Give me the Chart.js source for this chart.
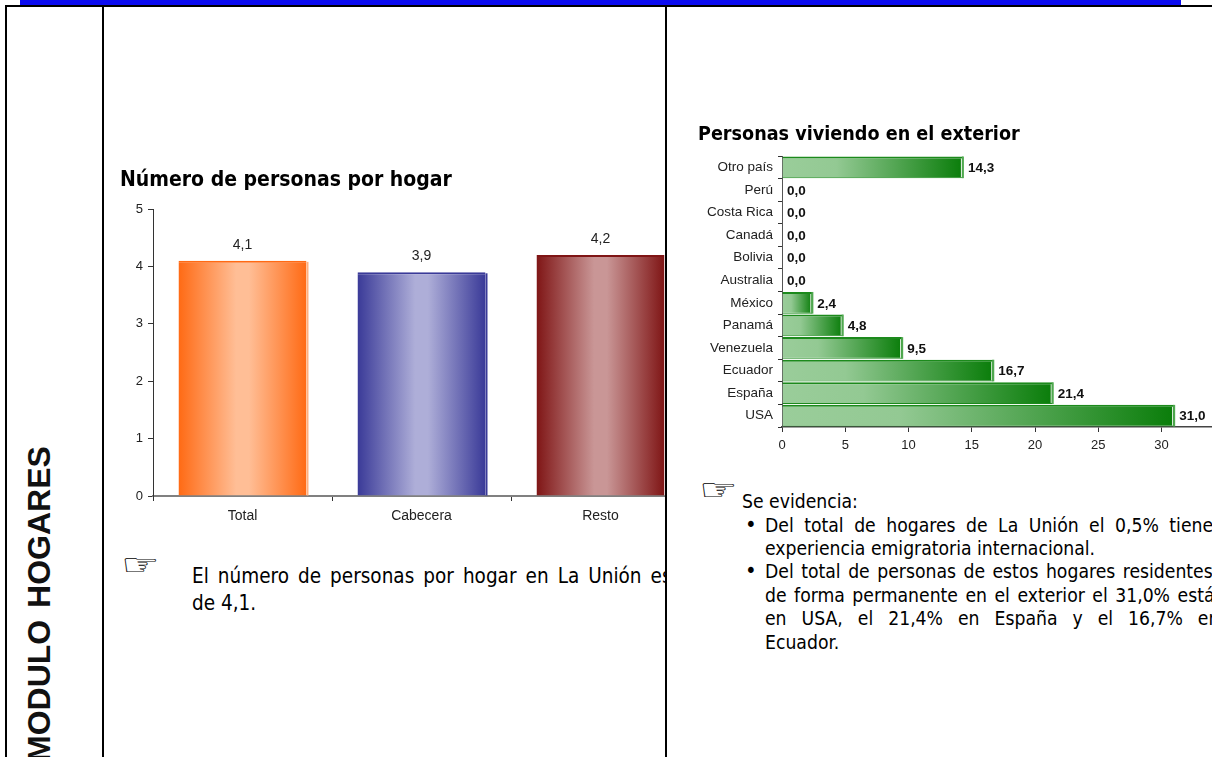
<!DOCTYPE html>
<html lang="es">
<head>
<meta charset="utf-8">
<title>Modulo hogares</title>
<script src="https://cdn.jsdelivr.net/npm/chart.js@4"></script>
<style>
html, body { margin: 0; padding: 0; background: #fff; width: 1212px; height: 757px; overflow: hidden; }
.abs { position: absolute; }
.rule { position: absolute; background: #000; }
.wrap { position: absolute; overflow: hidden; }
.txt { position: absolute; white-space: nowrap; font-family: "DejaVu Sans Condensed", "DejaVu Sans", sans-serif; color: #000; }
.hand { transform: scaleX(1.6); transform-origin: 0 50%; font-weight: bold; }
#modulo { position: absolute; left: 21px; top: 762px; transform-origin: 0 0; transform: rotate(-90deg); white-space: nowrap;
    font: bold 32px "Liberation Sans", sans-serif; word-spacing: 3px; color: #111; }
</style>
</head>
<body>
<!-- franja azul y bordes de la tabla -->
<div class="abs" style="left:20px;top:0;width:1161px;height:5px;background:#0b0bf0"></div>
<div class="rule" style="left:5px;top:5px;width:1207px;height:2px"></div>
<div class="rule" style="left:5px;top:5px;width:2px;height:752px"></div>
<div class="rule" style="left:102px;top:5px;width:2px;height:752px"></div>
<div class="rule" style="left:665px;top:5px;width:2px;height:752px"></div>
<div id="modulo">MODULO HOGARES</div>

<div class="wrap" style="left:120px;top:160px;width:545px;height:380px"><canvas id="hogarChart" width="600" height="380"></canvas></div>
<div class="wrap" style="left:698px;top:115px;width:514px;height:345px"><canvas id="exteriorChart" width="540" height="345"></canvas></div>

<!-- texto izquierdo -->
<div class="txt hand" style="left:121px;top:547px;font-size:30px">☞</div>
<div class="wrap" style="left:192px;top:560px;width:473px;height:60px">
    <div class="txt" style="left:0;top:4px;font-size:20.5px;word-spacing:3.2px">El número de personas por hogar en La Unión es</div>
    <div class="txt" style="left:0;top:31px;font-size:20.5px">de 4,1.</div>
</div>

<!-- texto derecho -->
<div class="txt hand" style="left:699px;top:472px;font-size:30px">☞</div>
<div class="txt" style="left:742px;top:490px;font-size:19.2px">Se evidencia:</div>
<div class="txt" style="left:745px;top:512px;font-size:22px">•</div>
<div class="txt" style="left:745px;top:558px;font-size:22px">•</div>
<div class="wrap" style="left:765px;top:510px;width:447px;height:150px">
    <div class="txt" style="left:0;top:4px;font-size:19.2px;word-spacing:5px">Del total de hogares de La Unión el 0,5% tiene</div>
    <div class="txt" style="left:0;top:27px;font-size:19.2px">experiencia emigratoria internacional.</div>
    <div class="txt" style="left:0;top:50px;font-size:19.2px;word-spacing:2px">Del total de personas de estos hogares residentes</div>
    <div class="txt" style="left:0;top:74px;font-size:19.2px;word-spacing:2px">de forma permanente en el exterior el 31,0% está</div>
    <div class="txt" style="left:0;top:97px;font-size:19.2px;word-spacing:9.5px">en USA, el 21,4% en España y el 16,7% en</div>
    <div class="txt" style="left:0;top:121px;font-size:19.2px">Ecuador.</div>
</div>

<script>
// Datos
const hogarLabels = ['Total', 'Cabecera', 'Resto'];
const hogarValues = [4.1, 3.9, 4.2];
const hogarTicks = [0, 1, 2, 3, 4, 5];

const exteriorLabels = ['Otro país', 'Perú', 'Costa Rica', 'Canadá', 'Bolivia', 'Australia', 'México', 'Panamá', 'Venezuela', 'Ecuador', 'España', 'USA'];
const exteriorValues = [14.3, 0, 0, 0, 0, 0, 2.4, 4.8, 9.5, 16.7, 21.4, 31.0];

const HOGAR_BAR_PCT = 0.715;
const EXTERIOR_BAR_PCT = 0.96;
const titleFamily = '"DejaVu Sans Condensed", "DejaVu Sans", sans-serif';
const axisFamily = '"Liberation Sans", Arial, sans-serif';

const hogarColors = [
    { edge: '#ff6a14', mid: '#ffbe96', line: '#ffb080' },
    { edge: '#3a3a98', mid: '#aeaed8', line: '#3a3a98' },
    { edge: '#7f1515', mid: '#c99696', line: '#e0c8c8' }
];

function fmt(v) {
    return v.toFixed(1).replace('.', ',');
}

// Degradado horizontal de cada barra vertical
function hogarGradient(context) {
    const chart = context.chart;
    const xScale = chart.scales.x;
    if (!xScale || context.dataIndex === undefined) return '#999';
    const c = hogarColors[context.dataIndex];
    const half = (xScale.width / hogarLabels.length) * HOGAR_BAR_PCT / 2;
    const center = xScale.getPixelForValue(context.dataIndex);
    if (!Number.isFinite(center) || !Number.isFinite(half)) return c.edge;
    const g = chart.ctx.createLinearGradient(center - half, 0, center + half, 0);
    g.addColorStop(0, c.edge);
    g.addColorStop(0.45, c.mid);
    g.addColorStop(0.55, c.mid);
    g.addColorStop(1, c.edge);
    return g;
}

// Degradado de las barras verdes, de claro a oscuro
function exteriorGradient(context) {
    const chart = context.chart;
    const xScale = chart.scales.x;
    if (!xScale || context.dataIndex === undefined) return '#999';
    const value = exteriorValues[context.dataIndex];
    const x0 = xScale.getPixelForValue(0);
    const x1 = xScale.getPixelForValue(value || 1);
    if (!Number.isFinite(x0) || !Number.isFinite(x1)) return '#0a7d0a';
    const g = chart.ctx.createLinearGradient(x0, 0, x1, 0);
    g.addColorStop(0, '#9acd9a');
    g.addColorStop(0.3, '#93c993');
    g.addColorStop(1, '#0a7d0a');
    return g;
}

// Filo claro al final de cada barra y etiqueta de valor
const barExtras = {
    id: 'barExtras',
    afterDatasetsDraw(chart) {
        const ctx = chart.ctx;
        const horizontal = chart.options.indexAxis === 'y';
        const values = chart.data.datasets[0].data;
        ctx.save();
        chart.getDatasetMeta(0).data.forEach((bar, i) => {
            const v = values[i];
            if (horizontal) {
                if (v > 0) {
                    ctx.fillStyle = '#fff';
                    ctx.fillRect(bar.x - 2, bar.y - bar.height / 2 + 2, 1, bar.height - 3);
                    ctx.fillStyle = '#4fa84f';
                    ctx.fillRect(bar.x - 1, bar.y - bar.height / 2, 2, bar.height);
                }
                ctx.font = 'bold 13.5px ' + axisFamily;
                ctx.fillStyle = '#111';
                ctx.textAlign = 'left';
                ctx.textBaseline = 'middle';
                ctx.fillText(fmt(v), bar.x + 5, bar.y + 1);
            } else {
                const right = bar.x + bar.width / 2;
                ctx.fillStyle = hogarColors[i].line;
                ctx.fillRect(right, bar.y + 1, 2, bar.base - bar.y - 1);
                ctx.font = '14px ' + axisFamily;
                ctx.fillStyle = '#222';
                ctx.textAlign = 'center';
                ctx.textBaseline = 'middle';
                ctx.fillText(fmt(v), bar.x, bar.y - 16);
            }
        });
        ctx.restore();
    }
};

new Chart(document.getElementById('hogarChart'), {
    type: 'bar',
    plugins: [barExtras],
    data: {
        labels: hogarLabels,
        datasets: [{
            data: hogarValues,
            backgroundColor: hogarGradient,
            borderColor: ctx => hogarColors[ctx.dataIndex] ? hogarColors[ctx.dataIndex].edge : '#999',
            borderWidth: { top: 2, left: 0, right: 0, bottom: 0 },
            borderSkipped: false,
            barPercentage: HOGAR_BAR_PCT,
            categoryPercentage: 1
        }]
    },
    options: {
        responsive: false,
        animation: false,
        layout: { autoPadding: false, padding: { top: 0, left: 0, right: 30, bottom: 0 } },
        plugins: {
            legend: { display: false },
            tooltip: { enabled: false },
            title: {
                display: true,
                text: 'Número de personas por hogar',
                align: 'start',
                color: '#000',
                font: { family: titleFamily, size: 21, weight: 'bold', lineHeight: 1.2 },
                padding: { top: 8, bottom: 16 }
            }
        },
        scales: {
            x: {
                afterFit: s => { s.height = 44; },
                border: { color: '#808080', width: 2 },
                grid: { drawOnChartArea: false, tickLength: 5, color: '#333', tickWidth: 1 },
                ticks: { color: '#222', padding: 7, maxRotation: 0, font: { family: axisFamily, size: 14 } }
            },
            y: {
                min: 0,
                max: 5,
                afterFit: s => { s.width = 33; },
                afterBuildTicks: s => { s.ticks = hogarTicks.map(v => ({ value: v })); },
                border: { color: '#333', width: 1 },
                grid: { drawOnChartArea: false, tickLength: 5, color: '#333', tickWidth: 1 },
                ticks: { color: '#222', padding: 5, font: { family: axisFamily, size: 13 } }
            }
        }
    }
});

new Chart(document.getElementById('exteriorChart'), {
    type: 'bar',
    plugins: [barExtras],
    data: {
        labels: exteriorLabels,
        datasets: [{
            data: exteriorValues,
            backgroundColor: exteriorGradient,
            borderColor: '#1c8a1c',
            borderWidth: { top: 2, left: 0, right: 0, bottom: 1 },
            borderSkipped: false,
            barPercentage: EXTERIOR_BAR_PCT,
            categoryPercentage: 1
        }]
    },
    options: {
        indexAxis: 'y',
        responsive: false,
        animation: false,
        layout: { autoPadding: false, padding: { top: 0, left: 0, right: 13, bottom: 0 } },
        plugins: {
            legend: { display: false },
            tooltip: { enabled: false },
            title: {
                display: true,
                text: 'Personas viviendo en el exterior',
                align: 'start',
                color: '#000',
                font: { family: titleFamily, size: 19.6, weight: 'bold', lineHeight: 1.2 },
                padding: { top: 8.5, bottom: 9 }
            }
        },
        scales: {
            x: {
                min: 0,
                max: 35,
                afterFit: s => { s.height = 33; },
                border: { color: '#444', width: 1.5 },
                grid: { drawOnChartArea: false, tickLength: 5, color: '#333', tickWidth: 1 },
                ticks: { stepSize: 5, color: '#222', padding: 6, font: { family: axisFamily, size: 13 } }
            },
            y: {
                afterFit: s => { s.width = 84; },
                border: { color: '#555', width: 1 },
                grid: { drawOnChartArea: false, tickLength: 4, color: '#333', tickWidth: 1 },
                ticks: { color: '#222', padding: 5, autoSkip: false, font: { family: axisFamily, size: 13.5 } }
            }
        }
    }
});
</script>
</body>
</html>
